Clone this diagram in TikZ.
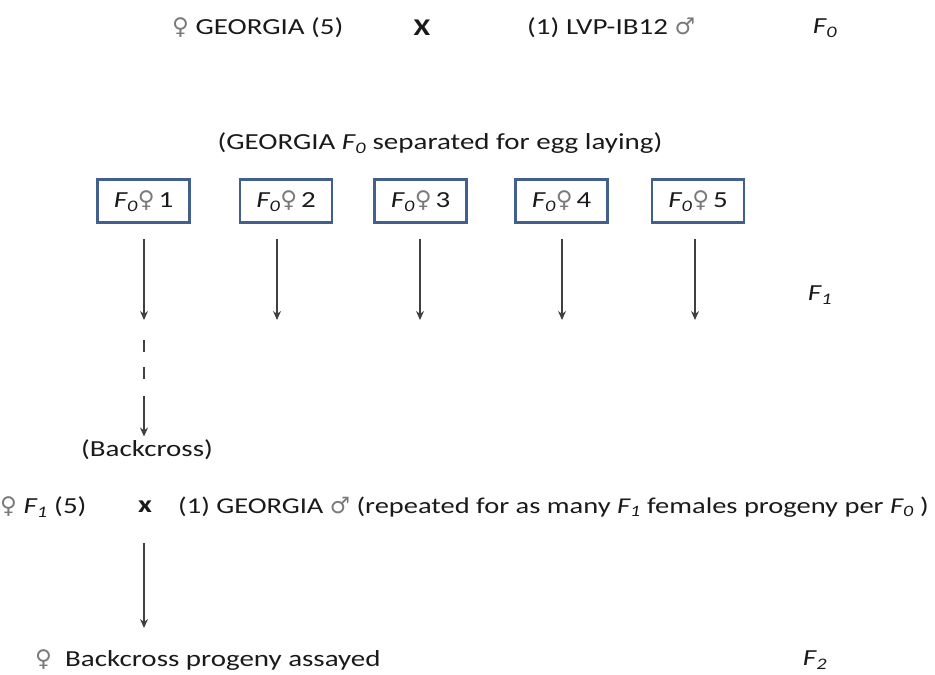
\documentclass[tikz,border=0pt]{standalone}
\usepackage{fontspec}
\setmainfont{Carlito}[FakeStretch=1.26]
\newfontfamily\symfont{DejaVu Sans}
\usetikzlibrary{positioning, arrows.meta}
\definecolor{inkgray}{HTML}{1A1A1A}
\definecolor{symgray}{HTML}{7A7A7A}
\definecolor{boxblue}{HTML}{41608C}
\definecolor{arrowgray}{HTML}{404040}
\newcommand{\fem}{{\symfont\color{symgray}\char"2640}}
\newcommand{\mal}{{\symfont\color{symgray}\char"2642}}
\newcommand{\gen}[1]{\textit{F\textsubscript{#1}}}

\begin{document}
\begin{tikzpicture}[
    x=1pt, y=-1pt,
    font=\fontsize{23}{27}\selectfont, text=inkgray,
    txt/.style={inner sep=0pt, anchor=west},
    crossmark/.style={inner sep=0pt, font=\fontsize{24}{27}\selectfont\bfseries},
    femalebox/.style={rectangle, draw=boxblue, line width=2.5pt, minimum width=92pt, minimum height=43pt, inner sep=2pt},
    flow/.style={arrowgray, line width=1.2pt, -{Stealth[length=9pt, width=8pt]}},
    dashflow/.style={arrowgray, line width=1.2pt, dash pattern=on 12pt off 15pt}
]
\useasboundingbox (0,0) rectangle (935,675);

% ==================== PARENTS ====================
\node[txt] (georgia) at (172,28) {\fem\ GEORGIA (5)};
\node[crossmark] (cross) at (422,28) {X};
\node[txt] (lvp) at (527,28) {(1) LVP-IB12 \mal};
\node (gen0) at (825,28) {\gen{0}};

% ==================== F0 FEMALES ====================
\node (separated) at (440,143) {(GEORGIA \gen{0} separated for egg laying)};

\foreach \i/\x/\ax in {1/143.5/0.5, 2/286/-9, 3/420.5/-0.5, 4/561.5/0.5, 5/698/-3} {
    \node[femalebox] (box\i) at (\x,201) {\gen{0}\fem\,\i};
    \coordinate (end\i) at (\x+\ax,320);
    \draw[flow] (end\i |- box\i.south) ++(0,15) -- (end\i);
}
\node (gen1) at (820,295) {\gen{1}};

% ==================== BACKCROSS ====================
\coordinate (dashbot) at (144,384);
\draw[dashflow] (end1) ++(0,20) -- (dashbot);
\node (backcross) at (147,450) {(Backcross)};
\draw[flow] (dashbot) ++(0,12) -- (dashbot |- backcross.north);

\node[txt] (femf1) at (0,507) {\fem\ \gen{1} (5)};
\node[crossmark] (cross2) at (145,507) {x};
\node[txt, font=\fontsize{22.6}{27}\selectfont] (repeated) at (178,507) {(1) GEORGIA \mal\ (repeated for as many \gen{1} females progeny per \gen{0} )};

% ==================== F2 ====================
\coordinate (end6) at (144,628);
\draw[flow] (cross2.south) ++(-1,30) -- (end6);
\node[txt] (progeny) at (35,660) {\fem\ \ Backcross progeny assayed};
\node (gen2) at (815,660) {\gen{2}};

\end{tikzpicture}
\end{document}
